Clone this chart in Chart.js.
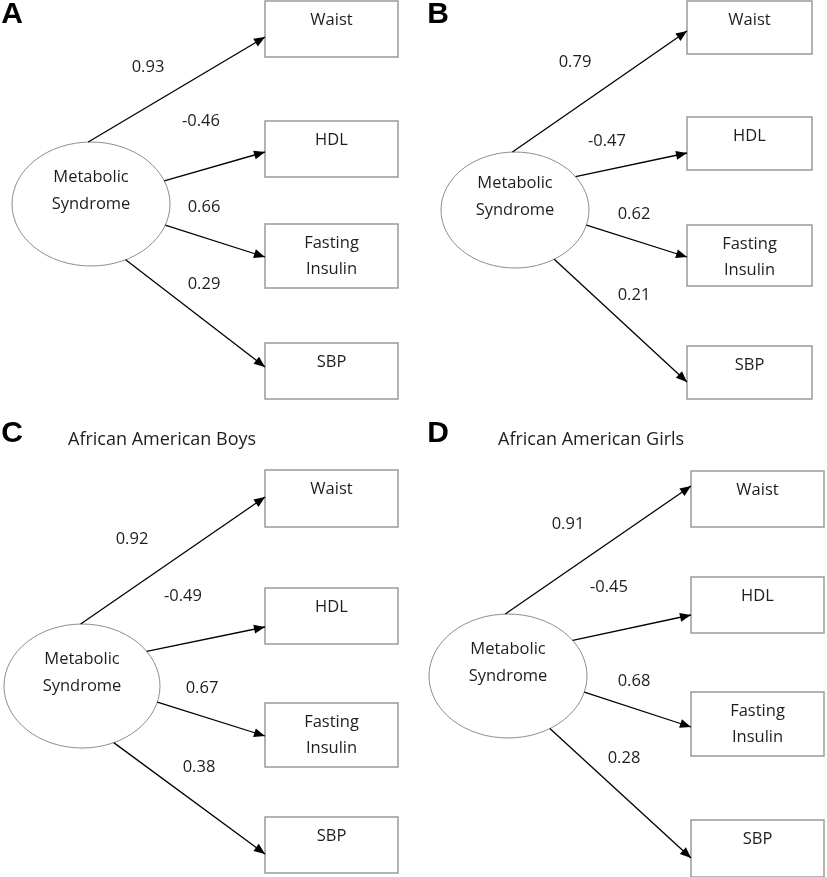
<!DOCTYPE html>
<html>
<head>
<meta charset="utf-8">
<script src="https://cdn.jsdelivr.net/npm/chart.js@4/dist/chart.umd.min.js"></script>
<style>
  html, body { margin: 0; padding: 0; background: #fff; }
</style>
</head>
<body>
<canvas id="paths" width="827" height="877"></canvas>
<script>
// standardized loadings of the metabolic syndrome factor, one array per group
var panelLetters = ["A", "B", "C", "D"];
var panelTitles = ["", "", "African American Boys", "African American Girls"];
var latentName = ["Metabolic", "Syndrome"];
var indicators = [["Waist"], ["HDL"], ["Fasting", "Insulin"], ["SBP"]];
var loadingsA = [0.93, -0.46, 0.66, 0.29];
var loadingsB = [0.79, -0.47, 0.62, 0.21];
var loadingsC = [0.92, -0.49, 0.67, 0.38];
var loadingsD = [0.91, -0.45, 0.68, 0.28];
var allLoadings = [loadingsA, loadingsB, loadingsC, loadingsD];

// drawing layout of each panel (scale units = pixels of the figure)
var layout = [
  { letter: [12, 14], title: [68, 440], ell: [91, 204, 79, 62],
    boxX: 265, boxW: 133, boxTop: [1, 121, 224, 343], boxH: [56, 56, 64, 56],
    startDeg: [-92, -22, 20, 64], endDy: [36, 31, 33, 24],
    lab: [[148, 67], [201, 121], [204, 207], [204, 284]] },
  { letter: [438, 14], title: [498, 440], ell: [515, 210, 74, 58],
    boxX: 687, boxW: 125, boxTop: [1, 117, 225, 346], boxH: [53, 53, 61, 53],
    startDeg: [-92, -35, 15, 58], endDy: [30, 36, 32, 36],
    lab: [[575, 62], [607, 141], [634, 214], [634, 295]] },
  { letter: [12, 433], title: [68, 440], ell: [82, 686, 78, 62],
    boxX: 265, boxW: 133, boxTop: [470, 588, 703, 817], boxH: [57, 56, 64, 56],
    startDeg: [-91, -34, 15, 66], endDy: [27, 39, 33, 37],
    lab: [[132, 539], [183, 596], [202, 688], [199, 767]] },
  { letter: [438, 433], title: [498, 440], ell: [508, 676, 79, 62],
    boxX: 691, boxW: 133, boxTop: [471, 577, 692, 820], boxH: [56, 56, 64, 57],
    startDeg: [-92, -35, 15, 58], endDy: [15, 38, 35, 38],
    lab: [[568, 524], [609, 587], [634, 681], [624, 758]] }
];

var TEXT = "#1e1e1e";
var FONT = '"Open Sans", "Noto Sans", sans-serif';

function arrowPoints(p, i) {
  var L = layout[p];
  var t = L.startDeg[i] * Math.PI / 180;
  return [
    { x: L.ell[0] + L.ell[2] * Math.cos(t), y: L.ell[1] + L.ell[3] * Math.sin(t) },
    { x: L.boxX, y: L.boxTop[i] + L.endDy[i] }
  ];
}

var datasets = [];
for (var p = 0; p < 4; p++) {
  for (var i = 0; i < indicators.length; i++) {
    datasets.push({
      label: panelLetters[p] + " " + indicators[i].join(" "),
      data: arrowPoints(p, i),
      showLine: true,
      borderColor: "#000",
      borderWidth: 1.3,
      pointRadius: 0,
      panel: p,
      item: i
    });
  }
}

var diagramPlugin = {
  id: "diagram",
  beforeDatasetsDraw: function (chart) {
    var ctx = chart.ctx, sx = chart.scales.x, sy = chart.scales.y;
    ctx.save();
    for (var p = 0; p < 4; p++) {
      var L = layout[p];
      // latent variable ellipse
      var cx = sx.getPixelForValue(L.ell[0]), cy = sy.getPixelForValue(L.ell[1]);
      var rx = sx.getPixelForValue(L.ell[0] + L.ell[2]) - cx;
      var ry = sy.getPixelForValue(L.ell[1] + L.ell[3]) - cy;
      ctx.beginPath();
      ctx.ellipse(cx, cy, rx, Math.abs(ry), 0, 0, Math.PI * 2);
      ctx.strokeStyle = "#8c8c8c";
      ctx.lineWidth = 1;
      ctx.stroke();
      ctx.fillStyle = TEXT;
      ctx.font = "16.5px " + FONT;
      ctx.textAlign = "center";
      ctx.textBaseline = "middle";
      ctx.fillText(latentName[0], cx, cy - 27);
      ctx.fillText(latentName[1], cx, cy);
      // indicator boxes
      for (var i = 0; i < indicators.length; i++) {
        var x0 = sx.getPixelForValue(L.boxX), x1 = sx.getPixelForValue(L.boxX + L.boxW);
        var y0 = sy.getPixelForValue(L.boxTop[i]), y1 = sy.getPixelForValue(L.boxTop[i] + L.boxH[i]);
        ctx.strokeStyle = "#9a9a9a";
        ctx.lineWidth = 1.5;
        ctx.strokeRect(x0, y0, x1 - x0, y1 - y0);
        for (var k = 0; k < indicators[i].length; k++) {
          ctx.fillText(indicators[i][k], (x0 + x1) / 2, y0 + 19 + k * 26);
        }
        // loading labels
        var lx = sx.getPixelForValue(L.lab[i][0]), ly = sy.getPixelForValue(L.lab[i][1]);
        ctx.fillText(allLoadings[p][i].toFixed(2), lx, ly);
      }
      // panel letter and title
      ctx.font = "bold 30px 'Liberation Sans', Arial, sans-serif";
      ctx.fillStyle = "#000";
      ctx.fillText(panelLetters[p], sx.getPixelForValue(L.letter[0]), sy.getPixelForValue(L.letter[1]) + 1);
      if (panelTitles[p]) {
        ctx.font = "18px " + FONT;
        ctx.fillStyle = TEXT;
        ctx.textAlign = "left";
        ctx.fillText(panelTitles[p], sx.getPixelForValue(L.title[0]), sy.getPixelForValue(L.title[1]));
      }
    }
    ctx.restore();
  },
  afterDatasetsDraw: function (chart) {
    var ctx = chart.ctx;
    ctx.save();
    ctx.fillStyle = "#000";
    chart.data.datasets.forEach(function (ds, d) {
      var pts = chart.getDatasetMeta(d).data;
      var a = pts[0], b = pts[1];
      var ang = Math.atan2(b.y - a.y, b.x - a.x);
      var len = 11, half = 4.5;
      ctx.beginPath();
      ctx.moveTo(b.x, b.y);
      ctx.lineTo(b.x - len * Math.cos(ang) + half * Math.sin(ang), b.y - len * Math.sin(ang) - half * Math.cos(ang));
      ctx.lineTo(b.x - len * Math.cos(ang) - half * Math.sin(ang), b.y - len * Math.sin(ang) + half * Math.cos(ang));
      ctx.closePath();
      ctx.fill();
    });
    ctx.restore();
  }
};

var ctx = document.getElementById("paths").getContext("2d");
var myChart = new Chart(ctx, {
  type: "scatter",
  data: { datasets: datasets },
  options: {
    responsive: false,
    animation: false,
    layout: { padding: 0 },
    plugins: { legend: { display: false }, tooltip: { enabled: false } },
    scales: {
      x: { type: "linear", min: 0, max: 827, display: false },
      y: { type: "linear", min: 0, max: 877, reverse: true, display: false }
    }
  },
  plugins: [diagramPlugin]
});
</script>
</body>
</html>
